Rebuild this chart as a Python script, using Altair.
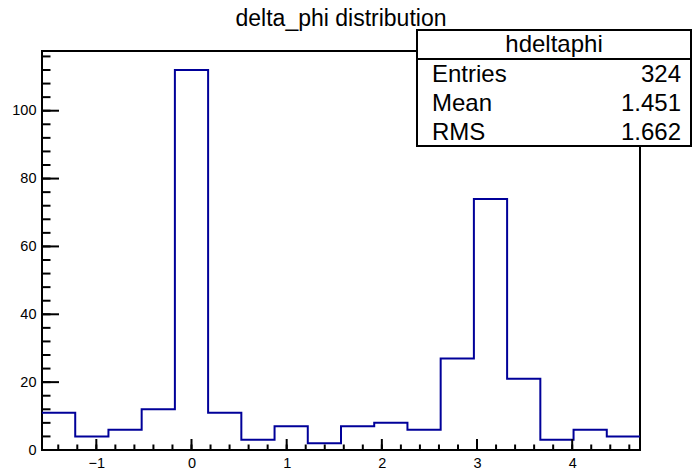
import math
import altair as alt
import pandas as pd

# ---- data ----
counts = [11, 4, 6, 12, 112, 11, 3, 7, 2, 7, 8, 6, 27, 74, 21, 3, 6, 4]
x_lo = -math.pi / 2
x_hi = 3 * math.pi / 2
y_max = 117.6
x_major = [-1, 0, 1, 2, 3, 4]
x_minor = [round(-1.4 + 0.2 * i, 2) for i in range(31)]
y_major = [0, 20, 40, 60, 80, 100]
y_minor = list(range(0, 118, 4))
title_text = "delta_phi distribution"
stats_name = "hdeltaphi"
stats_labels = ["Entries", "Mean", "RMS"]
stats_values = ["324", "1.451", "1.662"]

FONT = "Liberation Sans"
W, H = 598, 399
LINE = "#000099"

nb = len(counts)
bw = (x_hi - x_lo) / nb
edges = [x_lo + i * bw for i in range(nb + 1)]
hist = pd.DataFrame({"x": edges, "y": counts + [counts[-1]]})

xs = alt.Scale(domain=[x_lo, x_hi], nice=False, zero=False)
ys = alt.Scale(domain=[0, y_max], nice=False, zero=False)

x_axis = alt.Axis(values=x_major, ticks=False, domain=False, grid=False,
                  labelFont=FONT, labelFontSize=14.5, labelColor="black",
                  labelPadding=6, title=None)
y_axis = alt.Axis(values=y_major, ticks=False, domain=False, grid=False,
                  labelFont=FONT, labelFontSize=14.5, labelColor="black",
                  labelPadding=6, title=None)

hist_line = alt.Chart(hist).mark_line(
    interpolate="step-after", color=LINE, strokeWidth=2, clip=True
).encode(
    x=alt.X("x:Q", scale=xs, axis=x_axis, title=None),
    y=alt.Y("y:Q", scale=ys, axis=y_axis, title=None),
)

def tick_rules(vals, axis, length):
    df = pd.DataFrame({"x": vals, "y": vals})
    c = alt.Chart(df).mark_rule(color="black", strokeWidth=2)
    if axis == "y":
        return c.encode(y=alt.Y("y:Q", scale=ys, axis=y_axis, title=None),
                        x=alt.value(0), x2=alt.value(length))
    return c.encode(x=alt.X("x:Q", scale=xs, axis=x_axis, title=None),
                    y=alt.value(H), y2=alt.value(H - length))

ticks = [
    tick_rules(y_major, "y", 17),
    tick_rules(y_minor, "y", 8.5),
    tick_rules(x_major, "x", 11),
    tick_rules(x_minor, "x", 5.5),
]

title_mark = alt.Chart(pd.DataFrame({"t": [title_text]})).mark_text(
    font=FONT, fontSize=23, align="center", baseline="alphabetic", color="black"
).encode(text="t:N", x=alt.value(W / 2), y=alt.value(-25))

one = pd.DataFrame({"a": [0]})
bx0, bx1, by0, by1, bsep = 375, 649, -21, 95, 8
box = alt.Chart(one).mark_rect(fill="white", stroke="black", strokeWidth=2).encode(
    x=alt.value(bx0), x2=alt.value(bx1), y=alt.value(by0), y2=alt.value(by1))
sep = alt.Chart(one).mark_rule(color="black", strokeWidth=2).encode(
    x=alt.value(bx0), x2=alt.value(bx1), y=alt.value(bsep))
header = alt.Chart(pd.DataFrame({"t": [stats_name]})).mark_text(
    font=FONT, fontSize=24, align="center", baseline="alphabetic", color="black"
).encode(text="t:N", x=alt.value((bx0 + bx1) / 2), y=alt.value(1))

rows = []
for i, (lab, val) in enumerate(zip(stats_labels, stats_values)):
    yy = 31 + 29 * i
    rows.append(alt.Chart(pd.DataFrame({"t": [lab]})).mark_text(
        font=FONT, fontSize=24, align="left", baseline="alphabetic", color="black"
    ).encode(text="t:N", x=alt.value(390), y=alt.value(yy)))
    rows.append(alt.Chart(pd.DataFrame({"t": [val]})).mark_text(
        font=FONT, fontSize=24, align="right", baseline="alphabetic", color="black"
    ).encode(text="t:N", x=alt.value(639), y=alt.value(yy)))

chart = alt.layer(hist_line, *ticks, title_mark, box, sep, header, *rows).properties(
    width=W, height=H,
    background="white",
    autosize=alt.AutoSizeParams(type="none"),
    padding={"left": 42, "top": 51, "right": 53, "bottom": 20},
).configure_view(stroke="black", strokeWidth=2)

chart.save("out.html", embed_options={"renderer": "svg", "actions": False})
